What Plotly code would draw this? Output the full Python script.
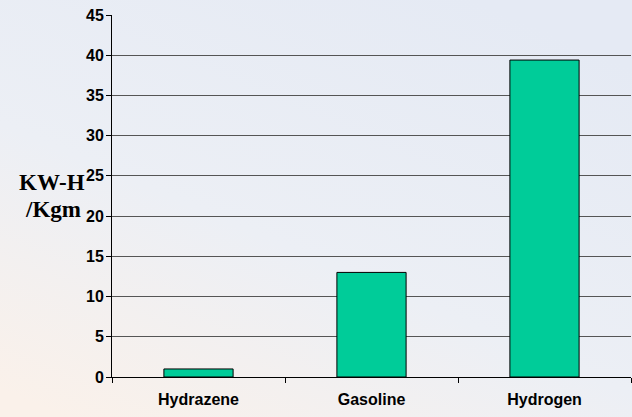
import base64
import plotly.graph_objects as go

categories = ["Hydrazene", "Gasoline", "Hydrogen"]
values = [1.0, 13.0, 39.4]
y_ticks = [0, 5, 10, 15, 20, 25, 30, 35, 40, 45]
title_lines = ["KW-H", "/Kgm"]

W, H = 632, 417
ML, MR, MT, MB = 112, 1, 15, 40
PW, PH = W - ML - MR, H - MT - MB

svg = (
    "<svg xmlns='http://www.w3.org/2000/svg' width='632' height='417' viewBox='0 0 632 417' preserveAspectRatio='none'>"
    "<defs><linearGradient id='g' x1='0.75' y1='0' x2='0.1' y2='1'>"
    "<stop offset='0' stop-color='#E5EAF4'/>"
    "<stop offset='0.55' stop-color='#ECEFF5'/>"
    "<stop offset='1' stop-color='#FAF1EA'/>"
    "</linearGradient></defs>"
    "<rect width='632' height='417' fill='url(#g)'/></svg>"
)
src = "data:image/svg+xml;base64," + base64.b64encode(svg.encode()).decode()

fig = go.Figure(go.Bar(
    x=categories, y=values, width=0.4,
    marker=dict(color="#00CC99", line=dict(color="#000000", width=1)),
))

title_font = dict(family="Times New Roman, Liberation Serif, serif", size=23, color="#000000")

fig.update_layout(
    width=W, height=H,
    margin=dict(l=ML, r=MR, t=MT, b=MB),
    paper_bgcolor="#ECEFF5", plot_bgcolor="rgba(0,0,0,0)",
    showlegend=False,
    font=dict(family="Arial, Liberation Sans, sans-serif", color="#000000"),
    images=[dict(
        source=src, xref="paper", yref="paper",
        x=-ML / PW, y=(PH + MT) / PH, sizex=W / PW, sizey=H / PH,
        xanchor="left", yanchor="top", sizing="stretch", layer="below",
    )],
    xaxis=dict(
        showline=True, linecolor="#000000", linewidth=1,
        ticks="outside", ticklen=5, tickcolor="#000000", tickson="boundaries",
        tickvals=categories, ticktext=["<b>%s</b>" % c for c in categories],
        tickfont=dict(size=16, family="Arial, Liberation Sans, sans-serif"),
        ticklabelstandoff=8,
        showgrid=False,
    ),
    yaxis=dict(
        range=[0, 45], tickvals=y_ticks, ticktext=["<b>%d</b>" % t for t in y_ticks],
        showline=True, linecolor="#000000", linewidth=1,
        ticks="outside", ticklen=5, tickcolor="#000000",
        ticklabelstandoff=-1,
        tickfont=dict(size=16, family="Arial, Liberation Sans, sans-serif"),
        showgrid=True, gridcolor="#555555", gridwidth=1,
        zeroline=False,
    ),
    annotations=[
        dict(text="<b>%s</b>" % title_lines[0], xref="paper", yref="paper",
             x=0, y=0.537, xanchor="center", yanchor="middle",
             xshift=-60, showarrow=False, font=title_font),
        dict(text="<b>%s</b>" % title_lines[1], xref="paper", yref="paper",
             x=0, y=0.464, xanchor="center", yanchor="middle",
             xshift=-59, showarrow=False, font=title_font),
    ],
)

fig.write_html("out.html", config={"displayModeBar": False},
               post_script="document.body.style.margin='0';")
